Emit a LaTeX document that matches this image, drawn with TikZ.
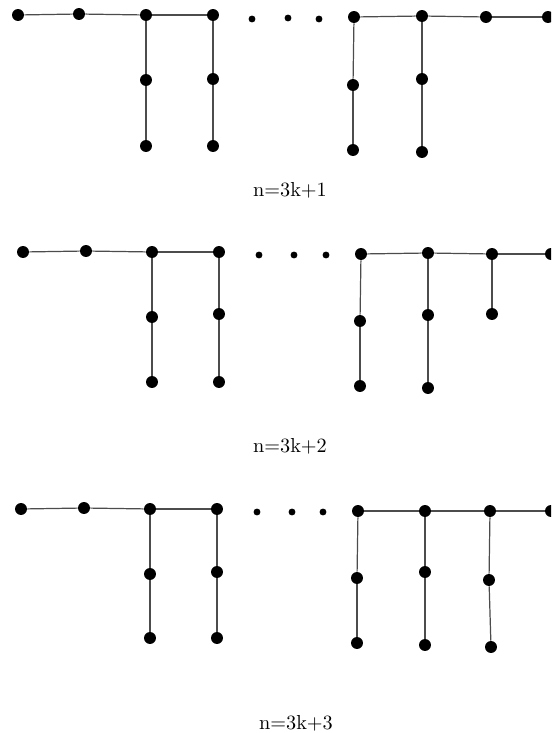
\documentclass[tikz,border=0pt]{standalone}
\usepackage{xcolor}
\usepackage{tikz}

\tikzset{
  vtx/.style={circle, fill=black, inner sep=0pt, minimum size=5.9pt},
  gapdot/.style={circle, fill=black, inner sep=0pt, minimum size=3.4pt},
  edge/.style={draw=black!70, line width=0.6pt}
}

\begin{document}
\begin{tikzpicture}[x=0.01735cm, y=-0.01735cm]
\useasboundingbox (0,0) rectangle (551,733);
\clip (0,0) rectangle (551,733);

% n=3k+1
\foreach \n/\x/\y in {a1/18/15, a2/79/14, a3/146/15, a4/213/15,
  a5/354/17, a6/422/16, a7/486/17, a8/548/17,
  a3m/146/80, a3b/146/146, a4m/213/79, a4b/213/146,
  a5m/353/85, a5b/353/150, a6m/422/79, a6b/422/152}
  \node[vtx] (\n) at (\x,\y) {};
\foreach \n/\x/\y in {ad1/252/19, ad2/288/18, ad3/319/19}
  \node[gapdot] (\n) at (\x,\y) {};
\foreach \u/\v in {a1/a2, a2/a3, a3/a4, a5/a6, a6/a7, a7/a8,
  a3/a3m, a3m/a3b, a4/a4m, a4m/a4b, a5/a5m, a5m/a5b, a6/a6m, a6m/a6b}
  \draw[edge] (\u) -- (\v);
\node (lab1) at (290,190) {n=3k+1};

% n=3k+2
\foreach \n/\x/\y in {b1/23/252, b2/86/251, b3/152/252, b4/219/252,
  b5/361/254, b6/428/253, b7/492/254, b8/551/254,
  b3m/152/317, b3b/152/382, b4m/219/314, b4b/219/382,
  b5m/360/321, b5b/360/386, b6m/428/315, b6b/428/388, b7m/492/314}
  \node[vtx] (\n) at (\x,\y) {};
\foreach \n/\x/\y in {bd1/259/255, bd2/294/255, bd3/326/255}
  \node[gapdot] (\n) at (\x,\y) {};
\foreach \u/\v in {b1/b2, b2/b3, b3/b4, b5/b6, b6/b7, b7/b8,
  b3/b3m, b3m/b3b, b4/b4m, b4m/b4b, b5/b5m, b5m/b5b, b6/b6m, b6m/b6b, b7/b7m}
  \draw[edge] (\u) -- (\v);
\node (lab2) at (290,446) {n=3k+2};

% n=3k+3
\foreach \n/\x/\y in {c1/21/509, c2/84/508, c3/150/509, c4/217/509,
  c5/358/511, c6/425/511, c7/490/511, c8/551/511,
  c3m/150/574, c3b/150/638, c4m/217/572, c4b/217/638,
  c5m/357/578, c5b/357/643, c6m/425/572, c6b/425/645,
  c7m/489/580, c7b/491/647}
  \node[vtx] (\n) at (\x,\y) {};
\foreach \n/\x/\y in {cd1/257/512, cd2/292/512, cd3/323/512}
  \node[gapdot] (\n) at (\x,\y) {};
\foreach \u/\v in {c1/c2, c2/c3, c3/c4, c5/c6, c6/c7, c7/c8,
  c3/c3m, c3m/c3b, c4/c4m, c4m/c4b, c5/c5m, c5m/c5b, c6/c6m, c6m/c6b,
  c7/c7m, c7m/c7b}
  \draw[edge] (\u) -- (\v);
\node (lab3) at (296,723) {n=3k+3};
\end{tikzpicture}
\end{document}
